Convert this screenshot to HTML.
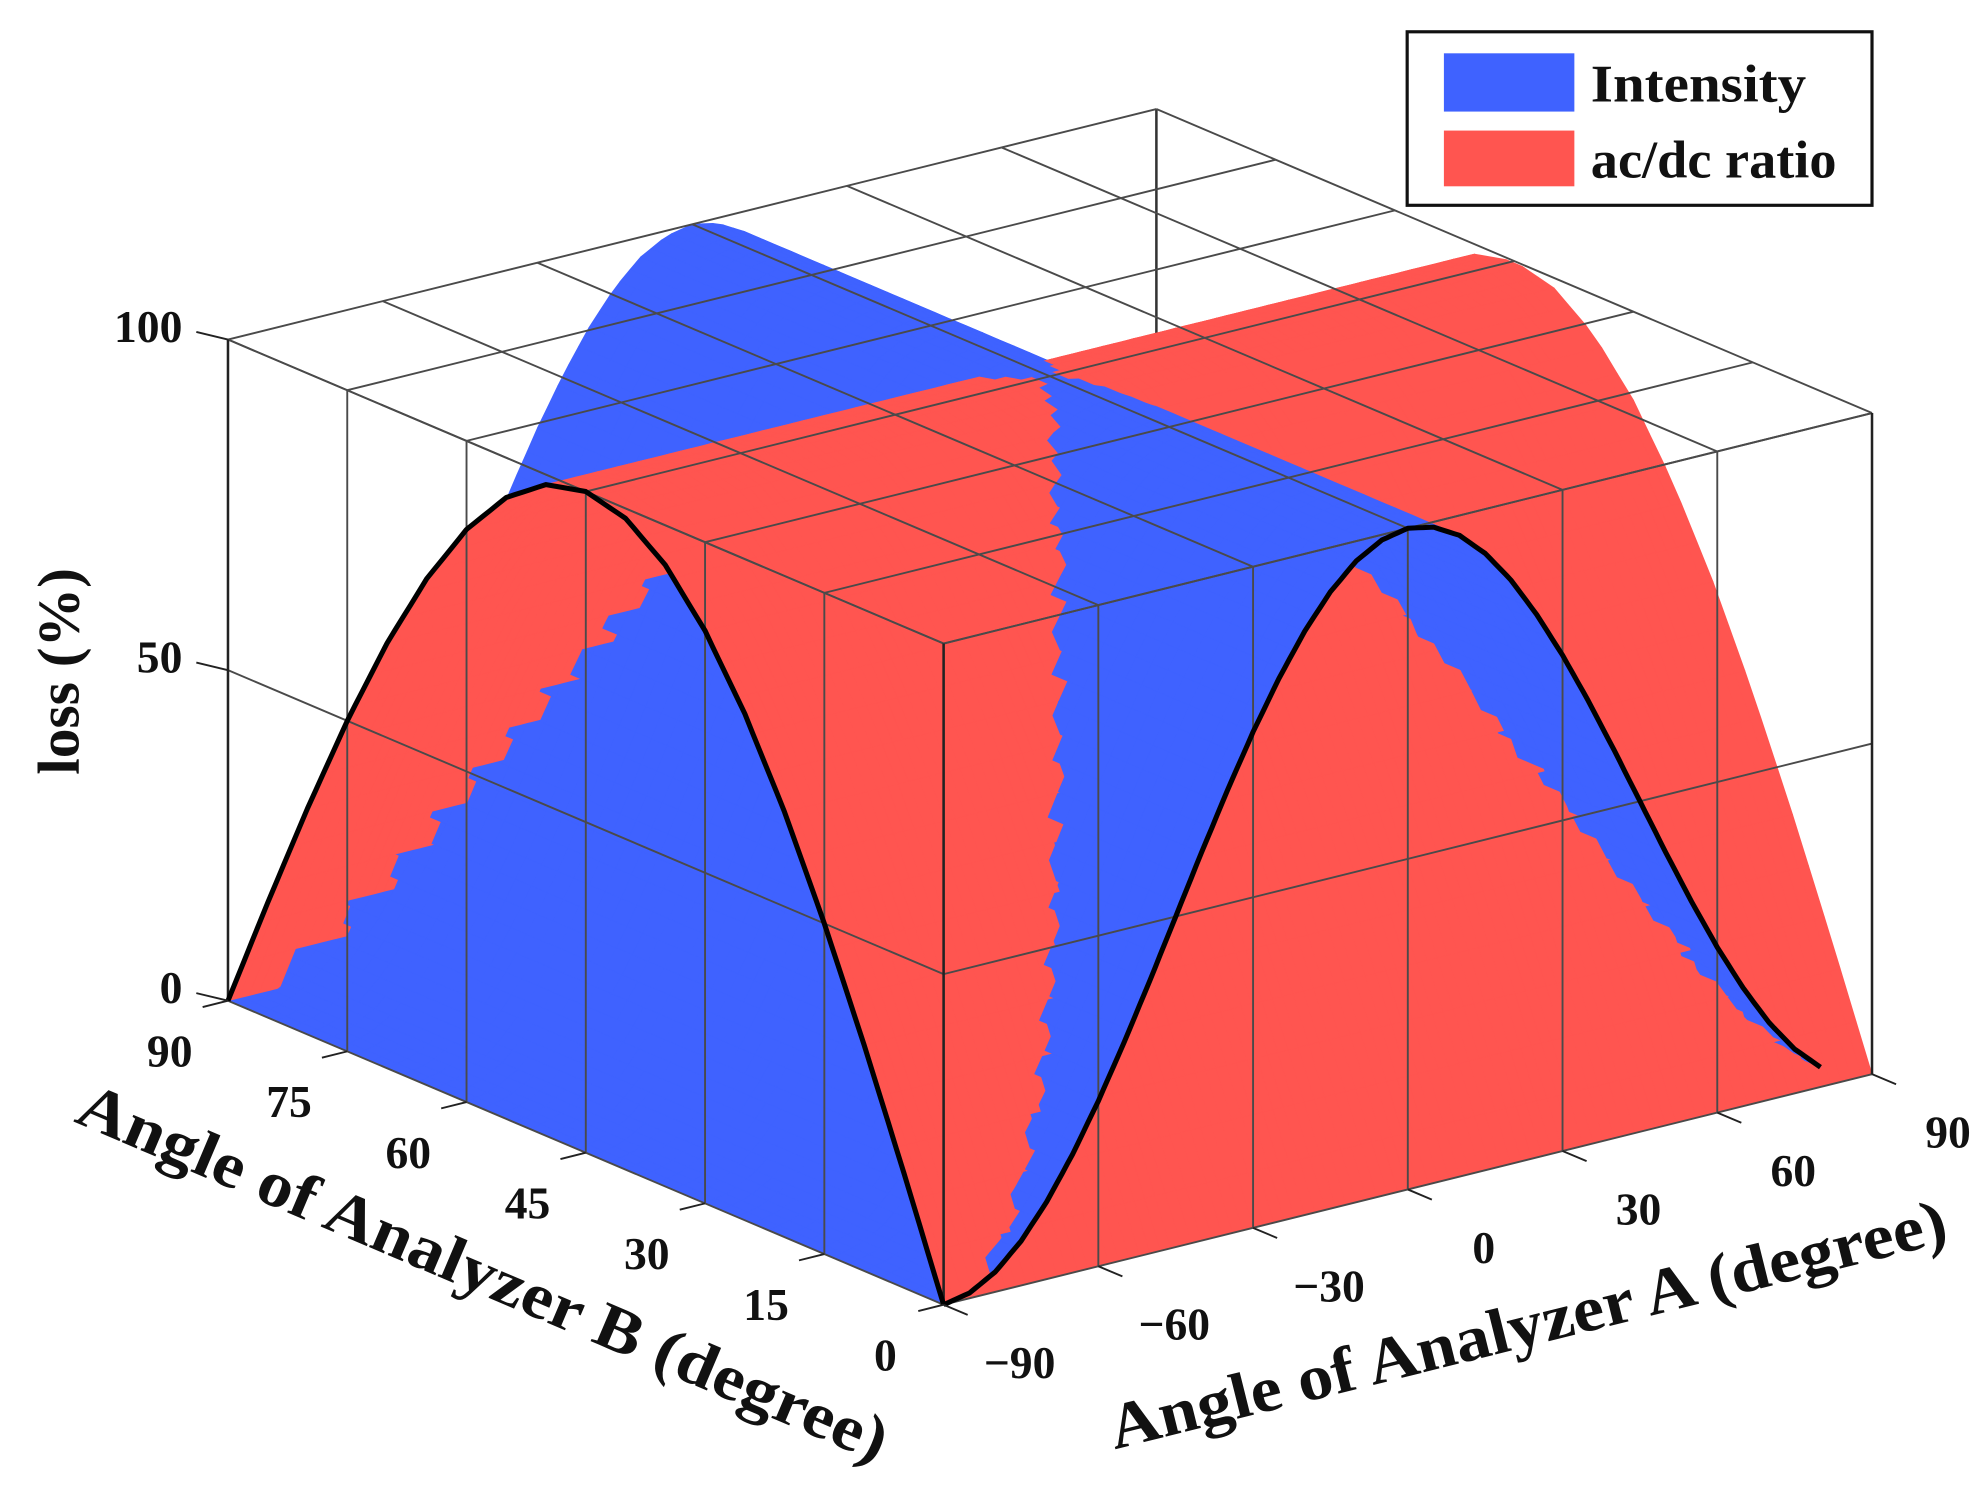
<!DOCTYPE html>
<html><head><meta charset="utf-8"><style>
html,body{margin:0;padding:0;background:#fff;}
svg{display:block;}
text{font-family:"Liberation Serif",serif;font-weight:bold;fill:#111;}
</style></head><body>
<svg id="chart" width="1986" height="1510" viewBox="0 0 1568 1192" xmlns="http://www.w3.org/2000/svg">
<g id="back"></g>
<g id="surf"></g>
<g id="grid"></g>
<g id="curves"></g>
<g id="ticks"></g>
<text transform="translate(62,530) rotate(-90)" text-anchor="middle" font-size="47">loss (%)</text>
<text transform="translate(375,1020) rotate(23)" text-anchor="middle" font-size="51" textLength="690" lengthAdjust="spacingAndGlyphs">Angle of Analyzer B (degree)</text>
<text transform="translate(1210,1062) rotate(-14)" text-anchor="middle" font-size="51" textLength="680" lengthAdjust="spacingAndGlyphs">Angle of Analyzer A (degree)</text>
<g>
<rect x="1111" y="25" width="367" height="137" fill="#fff" stroke="#111" stroke-width="2.5"/>
<rect x="1140" y="42" width="103" height="46" fill="#3F62FF"/>
<rect x="1140" y="103" width="103" height="44" fill="#FF5550"/>
<text x="1256" y="80" font-size="42" textLength="170" lengthAdjust="spacingAndGlyphs">Intensity</text>
<text x="1256" y="140" font-size="42" textLength="194" lengthAdjust="spacingAndGlyphs">ac/dc ratio</text>
</g>
</svg>
<script>
// Data
const anglesA = [-90,-85,-80,-75,-70,-65,-60,-55,-50,-45,-40,-35,-30,-25,-20,-15,-10,-5,0,5,10,15,20,25,30,35,40,45,50,55,60,65,70,75,80];
const intensity = [0,0.8,3,6.7,11.7,17.9,25,32.9,41.3,50,58.7,67.1,75,82.1,88.3,93.3,97,99.2,100,99.2,97,93.3,88.3,82.1,75,67.1,58.7,50,41.3,32.9,25,17.9,11.7,6.7,3];
const anglesB = [0,5,10,15,20,25,30,35,40,45,50,55,60,65,70,75,80,85,90];
const acdcRatio = [0,17.4,34.2,50,64.3,76.6,86.6,94,98.5,100,98.5,94,86.6,76.6,64.3,50,34.2,17.4,0];
const ticksA = [-90,-60,-30,0,30,60,90];
const ticksB = [0,15,30,45,60,75,90];
const ticksZ = [0,50,100];

const NS='http://www.w3.org/2000/svg';
function P(A,B,z){const u=(A+90)/180,v=B/90,w=z/100;return [745+733*u-565*v,1030-182*u-240*v-522*w];}
function depth(A,B,z){return 0.77*(A+90)/180+1.0*B/90-0.73*z/100;}
function interp(xs,ys,x){if(x<=xs[0])return ys[0];for(let i=1;i<xs.length;i++){if(x<=xs[i]){const t=(x-xs[i-1])/(xs[i]-xs[i-1]);return ys[i-1]+t*(ys[i]-ys[i-1]);}}return ys[ys.length-1];}
function mk(tag,attrs,parent){const e=document.createElementNS(NS,tag);for(const k in attrs)e.setAttribute(k,attrs[k]);parent.appendChild(e);return e;}
function line(g,a,b,col,w,name){const e=mk('line',{x1:a[0],y1:a[1],x2:b[0],y2:b[1],stroke:col,'stroke-width':w},g);

return e;}

const back=document.getElementById('back');
line(back,P(90,90,0),P(90,90,100),'#333',2,'box-edge');
line(back,P(90,90,0),P(-90,90,0),'#333',2,'box-edge');
line(back,P(90,90,0),P(90,0,0),'#333',2,'box-edge');

// Surfaces
const quads=[];
const sA=2,sB=2;
const aMaxBlue=anglesA[anglesA.length-1];
for(let b0=0;b0<90;b0+=sB){const b1=b0+sB,z0=interp(anglesB,acdcRatio,b0),z1=interp(anglesB,acdcRatio,b1);
  for(let a0=-90;a0<90;a0+=sA){const a1=a0+sA;
    quads.push({c:'#FF5550',n:'acdc-surface-cell',pts:[[a0,b0,z0],[a1,b0,z0],[a1,b1,z1],[a0,b1,z1]]});}}
for(let a0=-90;a0<aMaxBlue;a0+=sA){const a1=Math.min(a0+sA,aMaxBlue),z0=interp(anglesA,intensity,a0),z1=interp(anglesA,intensity,a1);
  for(let b0=0;b0<90;b0+=sB){const b1=b0+sB;
    quads.push({c:'#3F62FF',n:'intensity-surface-cell',pts:[[a0,b0,z0],[a1,b0,z1],[a1,b1,z1],[a0,b1,z0]]});}}
quads.forEach(q=>{q.d=q.pts.reduce((s,p)=>s+depth(p[0],p[1],p[2]),0)/4;});
quads.sort((a,b)=>b.d-a.d);
const surf=document.getElementById('surf');
quads.forEach(q=>{const s=q.pts.map(p=>P(p[0],p[1],p[2]).map(v=>v.toFixed(1)).join(',')).join(' ');
  const e=mk('polygon',{points:s,fill:q.c,stroke:q.c,'stroke-width':0.6,'stroke-linejoin':'round'},surf);
  
  });

// Grid
const grid=document.getElementById('grid');
const gc='#4a4a4a';
ticksA.forEach(a=>{line(grid,P(a,0,100),P(a,90,100),gc,1.5,'grid-line-top');line(grid,P(a,0,0),P(a,0,100),gc,1.5,'grid-line-front');});
ticksB.forEach(b=>{line(grid,P(-90,b,100),P(90,b,100),gc,1.5,'grid-line-top');line(grid,P(-90,b,0),P(-90,b,100),gc,1.5,'grid-line-left');});
ticksZ.forEach(z=>{line(grid,P(-90,0,z),P(90,0,z),gc,1.5,'grid-line-front');line(grid,P(-90,0,z),P(-90,90,z),gc,1.5,'grid-line-left');});
line(grid,P(-90,0,0),P(-90,0,100),'#222',2,'box-edge');
line(grid,P(90,0,0),P(90,0,100),'#222',2,'box-edge');
line(grid,P(-90,90,0),P(-90,90,100),'#222',2,'box-edge');

// Curves
const curves=document.getElementById('curves');
let d1='';for(let b=0;b<=90;b+=1){const p=P(-90,b,interp(anglesB,acdcRatio,b));d1+=(b?'L':'M')+p[0].toFixed(1)+','+p[1].toFixed(1);}
let c1=mk('path',{d:d1,fill:'none',stroke:'#000','stroke-width':4,'stroke-linejoin':'round'},curves);


let d2='';for(let a=-90;a<=aMaxBlue;a+=1){const p=P(a,0,interp(anglesA,intensity,a));d2+=(a>-90?'L':'M')+p[0].toFixed(1)+','+p[1].toFixed(1);}
let c2=mk('path',{d:d2,fill:'none',stroke:'#000','stroke-width':4,'stroke-linejoin':'round'},curves);



// Ticks + labels
const tk=document.getElementById('ticks');
ticksZ.forEach(z=>{const p=P(-90,90,z);line(tk,p,[p[0]-25,p[1]-6],'#222',1.5,'z-tick');
  const t=mk('text',{x:p[0]-36,y:p[1]+2,'text-anchor':'end','font-size':36},tk);t.textContent=z;
  
  });
ticksB.forEach(b=>{const p=P(-90,b,0);line(tk,p,[p[0]-20,p[1]+5],'#222',1.5,'b-tick');
  const t=mk('text',{x:p[0]-46,y:p[1]+52,'text-anchor':'middle','font-size':36},tk);t.textContent=b;
  
  });
ticksA.forEach(a=>{const p=P(a,0,0);line(tk,p,[p[0]+19,p[1]+8],'#222',1.5,'a-tick');
  const t=mk('text',{x:p[0]+60,y:p[1]+58,'text-anchor':'middle','font-size':36},tk);t.textContent=(a<0?'\u2212'+(-a):a);
  
  });
</script>
</body></html>
